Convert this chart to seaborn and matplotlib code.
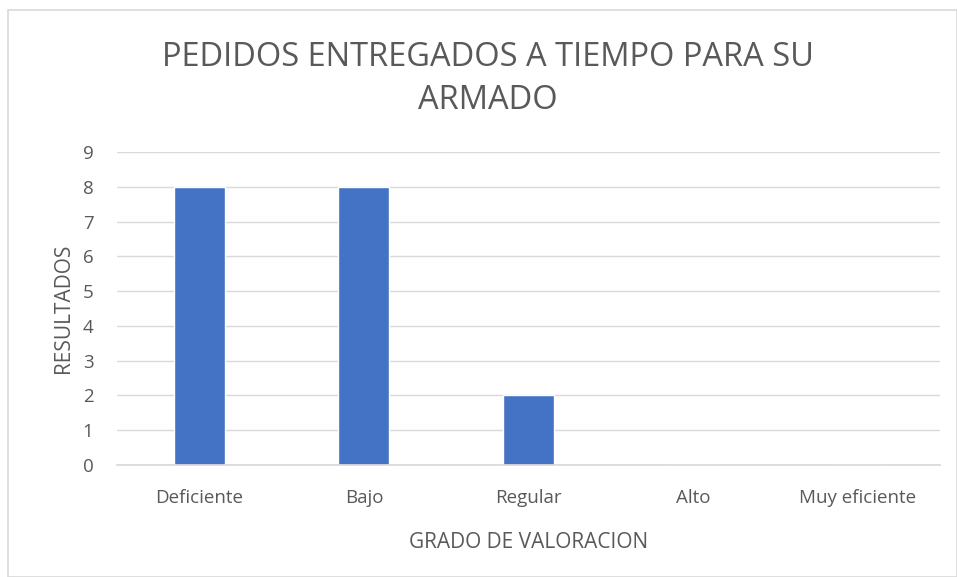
import matplotlib
matplotlib.use("Agg")
import matplotlib.pyplot as plt
import seaborn as sns
import pandas as pd
from matplotlib.patches import Rectangle

categories = ["Deficiente", "Bajo", "Regular", "Alto", "Muy eficiente"]
values = [8, 8, 2, 0, 0]
yticks = list(range(0, 10))

sns.set_theme(style="white")
plt.rcParams['font.family'] = ['Open Sans', 'DejaVu Sans']

df = pd.DataFrame({"cat": categories, "val": values})
fig = plt.figure(figsize=(9.57, 5.77), dpi=100)
ax = fig.add_axes([0.1223, 0.1941, 0.8599, 0.5425])
sns.barplot(data=df, x="cat", y="val", color="#4472C4", saturation=1, width=0.31, ax=ax)
ax.set_ylim(0, 9)
ax.set_yticks(yticks)
ax.set_xlim(-0.5, len(categories) - 0.5)
ax.grid(axis="y", color="#D9D9D9", linewidth=1)
ax.set_axisbelow(True)
for s in ["top", "right", "left"]:
    ax.spines[s].set_visible(False)
ax.spines["bottom"].set_color("#D9D9D9")
ax.tick_params(axis="x", length=0, labelsize=13.5, labelcolor="#595959", pad=17)
ax.tick_params(axis="y", length=0, labelsize=13.5, labelcolor="#595959", pad=17)
ax.set_xlabel("GRADO DE VALORACION", fontsize=15, color="#595959", labelpad=18)
ax.set_ylabel("RESULTADOS", fontsize=15, color="#595959", labelpad=6)
fig.text(0.51, 0.863, "PEDIDOS ENTREGADOS A TIEMPO PARA SU\nARMADO", ha="center", va="center",
         fontsize=23.5, color="#595959", linespacing=1.4)
fig.patches.append(Rectangle((8/957, 0), 1 - 8/957, 1 - 10/577, transform=fig.transFigure,
                             fill=False, edgecolor="#D9D9D9", linewidth=1.2))
fig.savefig("out.png", dpi=100)
